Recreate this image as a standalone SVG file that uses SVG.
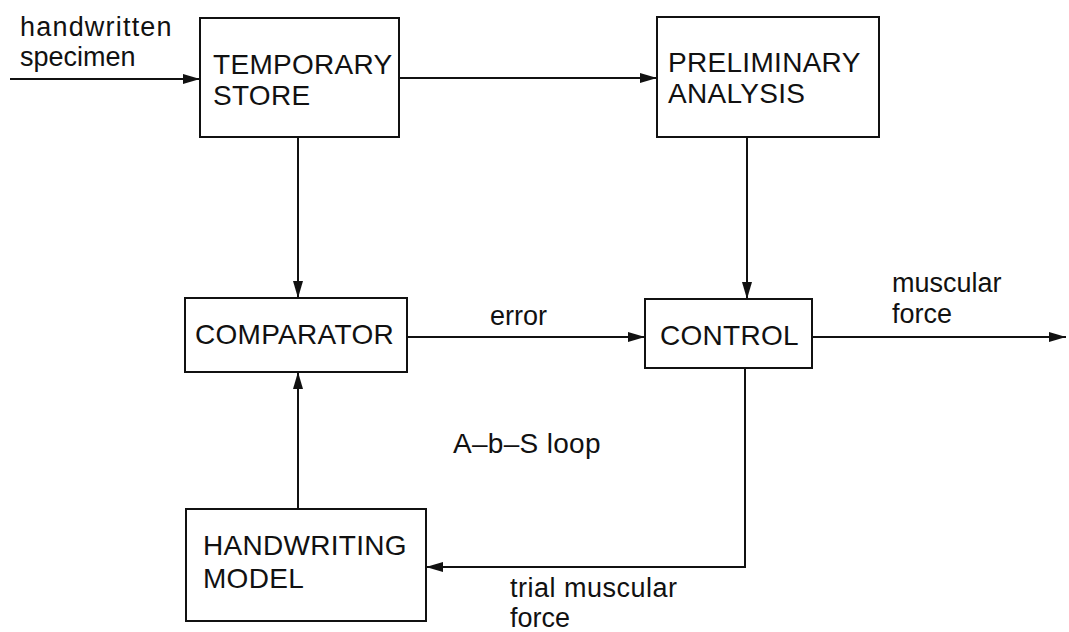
<svg xmlns="http://www.w3.org/2000/svg" width="1069" height="632" viewBox="0 0 1069 632">
<style>
.box{fill:#fff;stroke:#111;stroke-width:2}
.lbl{font-family:"Liberation Sans",Arial,sans-serif;font-size:28px;fill:#111;letter-spacing:0.3px}
.sm{font-family:"Liberation Sans",Arial,sans-serif;font-size:27px;fill:#111}
.ln{fill:none;stroke:#111;stroke-width:2}
</style>
<defs>
<marker id="ah" markerUnits="userSpaceOnUse" markerWidth="20" markerHeight="12" refX="17" refY="5.5" orient="auto">
<path d="M0,0.5 L17,5.5 L0,10.5 Z" fill="#111"/>
</marker>
</defs>
<rect width="1069" height="632" fill="#fff"/>
<g id="connectors">
<line class="ln" x1="10" y1="79" x2="200" y2="79" marker-end="url(#ah)"/>
<line class="ln" x1="399" y1="78" x2="657" y2="78" marker-end="url(#ah)"/>
<line class="ln" x1="298" y1="137" x2="298" y2="298" marker-end="url(#ah)"/>
<line class="ln" x1="747" y1="137" x2="747" y2="299" marker-end="url(#ah)"/>
<line class="ln" x1="407" y1="337" x2="645" y2="337" marker-end="url(#ah)"/>
<line class="ln" x1="812" y1="337" x2="1066" y2="337" marker-end="url(#ah)"/>
<polyline class="ln" points="745,368 745,567 426,567" marker-end="url(#ah)"/>
<line class="ln" x1="298" y1="509" x2="298" y2="372" marker-end="url(#ah)"/>
<text class="sm" x="20" y="36" letter-spacing="1.2">handwritten</text>
<text class="sm" x="20" y="66">specimen</text>
<text class="sm" x="490" y="325">error</text>
<text class="sm" x="892" y="292">muscular</text>
<text class="sm" x="892" y="323">force</text>
<text class="sm" x="510" y="597" letter-spacing="0.5">trial muscular</text>
<text class="sm" x="510" y="627">force</text>
<text class="lbl" x="453" y="453" letter-spacing="1.2">A–b–S loop</text>
</g>
<g id="temporary-store">
<rect class="box" x="200" y="18" width="199" height="119"/>
<text class="lbl" x="213" y="74">TEMPORARY</text>
<text class="lbl" x="213" y="105">STORE</text>
</g>
<g id="preliminary-analysis">
<rect class="box" x="657" y="17" width="222" height="120"/>
<text class="lbl" x="668" y="72">PRELIMINARY</text>
<text class="lbl" x="668" y="103">ANALYSIS</text>
</g>
<g id="comparator">
<rect class="box" x="185" y="298" width="222" height="74"/>
<text class="lbl" x="195" y="344">COMPARATOR</text>
</g>
<g id="control">
<rect class="box" x="645" y="299" width="167" height="69"/>
<text class="lbl" x="660" y="345">CONTROL</text>
</g>
<g id="handwriting-model">
<rect class="box" x="186" y="509" width="240" height="112"/>
<text class="lbl" x="203" y="555">HANDWRITING</text>
<text class="lbl" x="203" y="588">MODEL</text>
</g>
</svg>
